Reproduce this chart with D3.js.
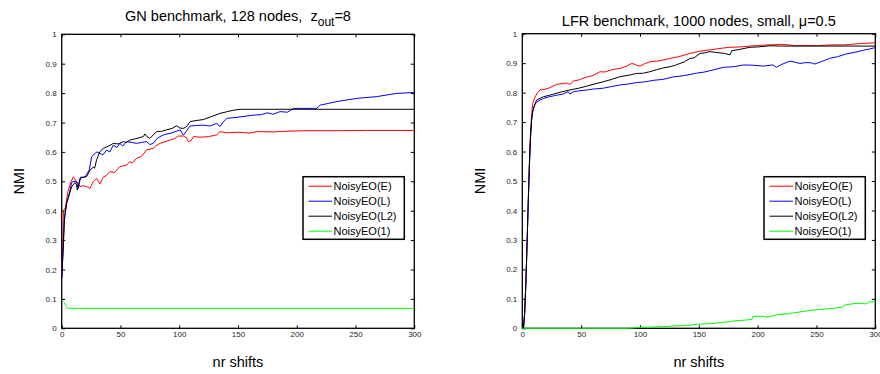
<!DOCTYPE html>
<html>
<head>
<meta charset="utf-8">
<script src="https://cdn.jsdelivr.net/npm/d3@7"></script>
<style>
  html, body { margin: 0; padding: 0; background: #fff; }
  svg { display: block; font-family: "Liberation Sans", Arial, Helvetica, sans-serif; }
</style>
</head>
<body>
<svg id="chart" width="880" height="374"></svg>
<script>
// ---------------- DATA ----------------
const seriesNames = ["NoisyEO(E)", "NoisyEO(L)", "NoisyEO(L2)", "NoisyEO(1)"];
const seriesColors = ["#ff0000", "#0000ff", "#000000", "#00ff00"];
const xTicks = [0, 50, 100, 150, 200, 250, 300];
const yTicks = [0, 0.1, 0.2, 0.3, 0.4, 0.5, 0.6, 0.7, 0.8, 0.9, 1];
const xLabel = "nr shifts";
const yLabel = "NMI";

// GN benchmark, 128 nodes, z_out = 8  -- [nr shifts, NMI]
const gnE = [[0,0.17],[1,0.30],[1.5,0.40],[3,0.41],[5.6,0.47],[8,0.50],[9.9,0.514],[12.7,0.499],[15.6,0.482],[18,0.485],
  [21.2,0.482],[24,0.476],[26.9,0.499],[29.7,0.51],[32.5,0.491],[35.4,0.514],[38,0.52],[41,0.533],[45,0.53],[49.5,0.55],
  [55.2,0.555],[58,0.567],[60,0.562],[63.7,0.578],[68,0.585],[72.2,0.607],[77.9,0.612],[80,0.62],[83.6,0.629],[88,0.635],
  [92.1,0.64],[96,0.645],[99.2,0.654],[103.5,0.654],[106,0.648],[107.8,0.635],[110,0.638],[112.1,0.652],[118,0.65],[125,0.652],
  [131.9,0.658],[134.7,0.669],[140,0.665],[150,0.667],[160,0.664],[166,0.669],[180,0.668],[190,0.67],[205.7,0.672],[230,0.672],
  [260,0.673],[300,0.673]];
const gnL = [[0,0.17],[1,0.25],[2,0.36],[4.2,0.425],[6,0.45],[8.5,0.496],[10,0.50],[12.7,0.499],[14.1,0.476],[16.1,0.514],
  [19.8,0.514],[21.8,0.527],[23.5,0.54],[25.5,0.584],[28.4,0.595],[30,0.60],[32.5,0.595],[35,0.59],[38.2,0.606],[41,0.60],
  [43.9,0.623],[47,0.615],[49.5,0.629],[52,0.62],[55.2,0.635],[60,0.632],[63.7,0.629],[68,0.632],[72.2,0.635],[75,0.625],
  [77.9,0.629],[81,0.645],[83.6,0.652],[88,0.66],[92.1,0.663],[96,0.668],[100.7,0.675],[103.5,0.657],[106,0.67],[109.2,0.688],
  [115,0.69],[120.5,0.691],[126,0.688],[131.9,0.697],[134.7,0.686],[137,0.70],[140.4,0.714],[150,0.718],[163.1,0.725],[170,0.727],
  [175,0.733],[180,0.728],[185.8,0.737],[192,0.735],[197.2,0.748],[205,0.748],[217,0.748],[219.9,0.759],[234,0.771],[251,0.782],
  [268,0.788],[285,0.799],[300,0.802]];
const gnL2 = [[0,0.17],[1.4,0.278],[2.5,0.38],[4.2,0.425],[6,0.45],[8.5,0.482],[11.3,0.496],[12.5,0.49],[13.3,0.47],[14.5,0.49],
  [15.6,0.51],[18.4,0.514],[21.2,0.516],[24,0.538],[26.9,0.548],[28,0.545],[29.7,0.573],[32.5,0.601],[35.4,0.612],[40,0.62],
  [43.9,0.629],[48,0.627],[52.4,0.635],[55,0.632],[58,0.64],[63,0.645],[69.4,0.652],[70.8,0.661],[72.5,0.652],[75,0.646],
  [80.7,0.669],[85,0.67],[89.2,0.675],[94,0.68],[97.8,0.689],[100.6,0.681],[103.5,0.68],[106,0.685],[109.2,0.703],[115,0.707],
  [120.5,0.71],[126,0.718],[134.7,0.731],[140,0.736],[145,0.741],[151.7,0.745],[170,0.745],[300,0.745]];
const gn1 = [[0,0.095],[1,0.092],[2,0.088],[3,0.08],[4,0.073],[5,0.069],[6,0.068],[50,0.068],[150,0.068],[300,0.068]];

// LFR benchmark, 1000 nodes, small, mu = 0.5  -- [nr shifts, NMI]
const lfrE = [[0,0],[1,0],[2,0.05],[3,0.15],[4,0.28],[5,0.42],[6,0.56],[7,0.67],[8,0.73],[9,0.765],[10.8,0.785],[13,0.80],
  [15,0.809],[20,0.812],[23.5,0.817],[26,0.822],[29.2,0.828],[33,0.83],[37.7,0.833],[40.5,0.828],[43.4,0.839],[48,0.843],
  [54.7,0.853],[60,0.858],[66,0.871],[70,0.87],[77.4,0.879],[83,0.882],[88.7,0.89],[92.9,0.899],[95,0.897],[97.2,0.893],
  [100,0.89],[104,0.898],[108.5,0.905],[115,0.907],[125.5,0.916],[133,0.922],[142.5,0.933],[150,0.94],[159.5,0.945],
  [168,0.95],[176.5,0.954],[185,0.955],[193.5,0.958],[200,0.96],[210.5,0.962],[219,0.964],[226,0.962],[233,0.959],
  [240,0.96],[250,0.959],[262,0.962],[273,0.962],[285,0.966],[300,0.969]];
const lfrL = [[0,0],[1,0],[2,0.05],[3,0.15],[4,0.28],[5,0.42],[6,0.55],[7,0.65],[8,0.71],[9,0.74],[10.8,0.76],[12.2,0.768],
  [15,0.775],[17.9,0.78],[22,0.785],[26.4,0.789],[30,0.792],[34.9,0.795],[37,0.80],[39.1,0.803],[40.5,0.795],[43.4,0.803],
  [48,0.806],[54.7,0.809],[60,0.812],[68.9,0.815],[75,0.82],[83,0.826],[91.5,0.83],[97.2,0.834],[105,0.837],[112,0.842],
  [119.8,0.845],[128,0.853],[138,0.858],[148,0.866],[155,0.87],[163,0.878],[171,0.886],[180,0.888],[188,0.894],[196,0.893],
  [205,0.89],[213,0.894],[216,0.886],[220,0.895],[227.5,0.907],[232,0.903],[236,0.899],[241,0.902],[245.6,0.901],[248.5,0.897],
  [254,0.905],[261,0.916],[268,0.922],[275,0.931],[283,0.937],[290,0.944],[295,0.948],[300,0.953]];
const lfrL2 = [[0,0],[1,0],[2,0.05],[3,0.15],[4,0.28],[5,0.42],[6,0.55],[7,0.65],[8,0.71],[9,0.74],[10.8,0.762],[12.2,0.775],
  [17.9,0.786],[22,0.79],[26.4,0.795],[33,0.802],[40.5,0.809],[48,0.815],[54.7,0.822],[62,0.83],[68.9,0.837],[76,0.845],
  [83,0.854],[91.5,0.86],[97.2,0.865],[103,0.866],[108.5,0.871],[115,0.879],[120,0.884],[125.5,0.888],[130,0.893],
  [134,0.899],[138,0.905],[142.5,0.916],[146,0.918],[151,0.933],[155,0.935],[159.5,0.939],[164,0.937],[168,0.935],
  [172,0.933],[176.5,0.928],[178,0.942],[185,0.947],[193.5,0.954],[200,0.955],[210.5,0.959],[220,0.958],[300,0.958]];
const lfr1 = [[0,0],[50,0],[90,0],[100,0.003],[120,0.006],[140,0.01],[150,0.014],[160,0.016],[170,0.02],[175,0.022],
  [180,0.025],[190,0.028],[195,0.03],[196,0.04],[205,0.041],[208,0.037],[215,0.045],[222,0.048],[230,0.052],[240,0.058],
  [250,0.063],[260,0.066],[268,0.07],[272,0.072],[275,0.08],[285,0.085],[292,0.083],[295,0.09],[300,0.09]];

const panelData = [
  { series: [gnE, gnL, gnL2, gn1] },
  { series: [lfrE, lfrL, lfrL2, lfr1] }
];

// ---------------- LAYOUT ----------------
const svg = d3.select("#chart");
const layout = [
  { left: 61.7, right: 414.3, top: 34.3, bottom: 328.3, titleY: 21, ylabX: 19 },
  { left: 522.3, right: 875.3, top: 33.7, bottom: 328.3, titleY: 26, ylabX: 480 }
];
const tickColor = "#262626";

panelData.forEach((pd, pi) => {
  const L = layout[pi];
  const x = d3.scaleLinear().domain([0, 300]).range([L.left, L.right]);
  const y = d3.scaleLinear().domain([0, 1]).range([L.bottom, L.top]);
  const g = svg.append("g");

  // clip (slightly larger than the box so lines on the edges stay visible)
  const clipId = "clip" + pi;
  svg.append("clipPath").attr("id", clipId).append("rect")
    .attr("x", L.left - 1).attr("y", L.top - 1).attr("width", L.right - L.left + 2).attr("height", L.bottom - L.top + 2);

  // axes (ticks inward)
  const fmtY = d => String(+d.toFixed(1));
  const axB = g.append("g").attr("transform", `translate(0,${L.bottom})`)
    .call(d3.axisBottom(x).tickValues(xTicks).tickSize(-3).tickPadding(5).tickFormat(d3.format("d")));
  const axT = g.append("g").attr("transform", `translate(0,${L.top})`)
    .call(d3.axisTop(x).tickValues(xTicks).tickSize(-3).tickFormat(""));
  const axL = g.append("g").attr("transform", `translate(${L.left},0)`)
    .call(d3.axisLeft(y).tickValues(yTicks).tickSize(-3.5).tickPadding(5).tickFormat(fmtY));
  const axR = g.append("g").attr("transform", `translate(${L.right},0)`)
    .call(d3.axisRight(y).tickValues(yTicks).tickSize(-3.5).tickFormat(""));
  [axB, axT, axL, axR].forEach(a => {
    a.select(".domain").remove();
    a.selectAll("line").attr("stroke", "#000").attr("stroke-width", 1);
    a.selectAll("text").attr("fill", tickColor).style("font-size", "8px")
      .style("font-family", '"Liberation Sans", Arial, sans-serif');
  });
  axB.selectAll("text").attr("dy", "0.71em").attr("y", 3);

  // box
  g.append("rect").attr("x", L.left).attr("y", L.top)
    .attr("width", L.right - L.left).attr("height", L.bottom - L.top)
    .attr("fill", "none").attr("stroke", "#000").attr("stroke-width", 1.3);

  // lines (drawn over the box, as in the original)
  const line = d3.line().x(d => x(d[0])).y(d => y(d[1]));
  const lg = g.append("g").attr("clip-path", `url(#${clipId})`);
  pd.series.forEach((s, si) => {
    lg.append("path").datum(s).attr("d", line)
      .attr("fill", "none").attr("stroke", seriesColors[si]).attr("stroke-width", 1)
      .attr("stroke-linejoin", "round");
  });

  // title
  const cx = (L.left + L.right) / 2;
  const t = g.append("text").attr("x", cx).attr("y", L.titleY).attr("text-anchor", "middle")
    .style("font-size", "14.5px").attr("fill", "#000");
  if (pi === 0) {
    t.append("tspan").text("GN benchmark, 128 nodes,\u00A0\u00A0z");
    t.append("tspan").attr("dy", 5).style("font-size", "12px").text("out");
    t.append("tspan").attr("dy", -5).text("=8");
  } else {
    t.text("LFR benchmark, 1000 nodes, small, \u03BC=0.5");
  }

  // axis labels
  g.append("text").attr("x", cx).attr("y", 367).attr("text-anchor", "middle")
    .style("font-size", "14.5px").text(xLabel);
  g.append("text").attr("transform", `translate(${L.ylabX + 5},${(L.top + L.bottom) / 2}) rotate(-90)`)
    .attr("text-anchor", "middle").style("font-size", "14.5px").text(yLabel);

  // legend
  const lw = 101.3, lh = 62.6;
  const lx = L.right - 10 - lw, ly = 176.7;
  const leg = g.append("g");
  leg.append("rect").attr("x", lx).attr("y", ly).attr("width", lw).attr("height", lh)
    .attr("fill", "#fff").attr("stroke", "#000").attr("stroke-width", 1.5);
  seriesNames.forEach((nm, i) => {
    const yy = ly + 9.5 + i * 15;
    leg.append("line").attr("x1", lx + 5.5).attr("x2", lx + 29).attr("y1", yy).attr("y2", yy)
      .attr("stroke", seriesColors[i]).attr("stroke-width", 1);
    leg.append("text").attr("x", lx + 30.5).attr("y", yy).attr("dy", "0.35em")
      .style("font-size", "11px").attr("fill", "#000").text(nm);
  });
});
</script>
</body>
</html>
